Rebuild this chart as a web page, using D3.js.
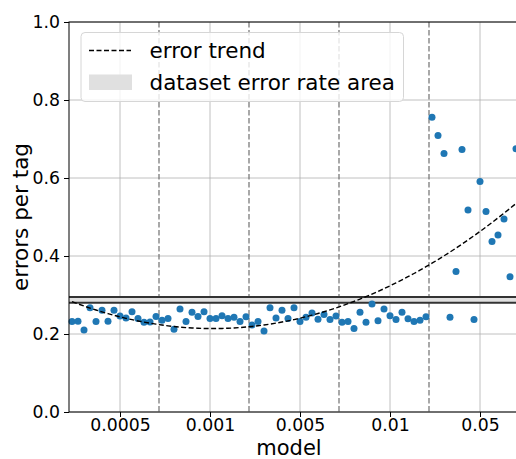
<!DOCTYPE html>
<html>
<head>
<meta charset="utf-8">
<script src="https://cdn.jsdelivr.net/npm/d3@7"></script>
<style>
  html, body { margin: 0; padding: 0; background: #fff; }
  svg { display: block; font-family: "DejaVu Sans", sans-serif; }
</style>
</head>
<body>
<svg id="chart" width="516" height="459"></svg>
<script>
// Errors per tag for each run, 15 runs per model setting
const errors = [
  0.232, 0.233, 0.210, 0.267, 0.232, 0.261, 0.233, 0.261, 0.246, 0.241, 0.257, 0.240, 0.230, 0.231, 0.245,
  0.235, 0.240, 0.212, 0.264, 0.232, 0.256, 0.245, 0.257, 0.240, 0.240, 0.247, 0.240, 0.243, 0.232, 0.244,
  0.223, 0.232, 0.208, 0.267, 0.241, 0.261, 0.240, 0.267, 0.232, 0.243, 0.254, 0.238, 0.250, 0.237, 0.246,
  0.230, 0.232, 0.214, 0.256, 0.230, 0.277, 0.234, 0.264, 0.247, 0.237, 0.256, 0.239, 0.232, 0.235, 0.244,
  0.756, 0.709, 0.663, 0.243, 0.360, 0.673, 0.518, 0.237, 0.591, 0.514, 0.437, 0.454, 0.495, 0.347, 0.675
];
const modelLabels = ["0.0005", "0.001", "0.005", "0.01", "0.05"];
const tickIndex = [8, 23, 38, 53, 68];
const groupBounds = [14.5, 29.5, 44.5, 59.5];
const datasetBand = [0.28, 0.295];
const yTicks = [0, 0.2, 0.4, 0.6, 0.8, 1.0];

const svg = d3.select("#chart");
const m = { left: 69, top: 22, right: 519, bottom: 412 };

const x = d3.scaleLinear().domain([-0.5, errors.length - 0.5]).range([m.left, m.right]);
const y = d3.scaleLinear().domain([0, 1]).range([m.bottom, m.top]);

// grid
const grid = svg.append("g");
grid.selectAll("line.h").data(yTicks).join("line")
  .attr("x1", m.left).attr("x2", m.right)
  .attr("y1", d => y(d)).attr("y2", d => y(d))
  .attr("stroke", "#b0b0b0").attr("stroke-width", 0.8);
grid.selectAll("line.v").data(tickIndex).join("line")
  .attr("x1", d => x(d)).attr("x2", d => x(d))
  .attr("y1", m.top).attr("y2", m.bottom)
  .attr("stroke", "#b0b0b0").attr("stroke-width", 0.8);

// group separators
svg.append("g").selectAll("line").data(groupBounds).join("line")
  .attr("x1", d => x(d)).attr("x2", d => x(d))
  .attr("y1", m.top).attr("y2", m.bottom)
  .attr("stroke", "#707070").attr("stroke-width", 1.2)
  .attr("stroke-dasharray", "5.5,2.5");

// dataset error rate band
svg.append("rect")
  .attr("x", m.left).attr("width", m.right - m.left)
  .attr("y", y(datasetBand[1])).attr("height", y(datasetBand[0]) - y(datasetBand[1]))
  .attr("fill", "#e0e0e0");
svg.append("g").selectAll("line").data(datasetBand).join("line")
  .attr("x1", m.left).attr("x2", m.right)
  .attr("y1", d => y(d)).attr("y2", d => y(d))
  .attr("stroke", "#333").attr("stroke-width", 2);

// points
svg.append("g").selectAll("circle").data(errors).join("circle")
  .attr("cx", (d, i) => x(i)).attr("cy", d => y(d))
  .attr("r", 3.5).attr("fill", "#1f77b4");

// quadratic least-squares trend over the runs
function quadFit(vals) {
  let S = [0, 0, 0, 0, 0], T = [0, 0, 0];
  vals.forEach((v, i) => {
    let p = 1;
    for (let k = 0; k < 5; k++) { S[k] += p; if (k < 3) T[k] += p * v; p *= i; }
  });
  const A = [[S[0], S[1], S[2], T[0]], [S[1], S[2], S[3], T[1]], [S[2], S[3], S[4], T[2]]];
  for (let c = 0; c < 3; c++) {
    for (let r = c + 1; r < 3; r++) {
      const f = A[r][c] / A[c][c];
      for (let k = c; k < 4; k++) A[r][k] -= f * A[c][k];
    }
  }
  const s = [0, 0, 0];
  for (let r = 2; r >= 0; r--) {
    let v = A[r][3];
    for (let k = r + 1; k < 3; k++) v -= A[r][k] * s[k];
    s[r] = v / A[r][r];
  }
  return s;
}
const coef = quadFit(errors);
const trend = errors.map((_, i) => [i, coef[0] + coef[1] * i + coef[2] * i * i]);
svg.append("path")
  .datum(trend)
  .attr("d", d3.line().x(d => x(d[0])).y(d => y(d[1])))
  .attr("fill", "none").attr("stroke", "#000").attr("stroke-width", 1.4)
  .attr("stroke-dasharray", "5,2.5");

// spines
svg.append("rect")
  .attr("x", m.left).attr("y", m.top)
  .attr("width", m.right - m.left).attr("height", m.bottom - m.top)
  .attr("fill", "none").attr("stroke", "#000").attr("stroke-width", 1);

// axes
const yAxis = d3.axisLeft(y).tickValues(yTicks).tickFormat(d3.format(".1f")).tickSize(5).tickPadding(4);
const yg = svg.append("g").attr("transform", `translate(${m.left},0)`).call(yAxis);
yg.select(".domain").remove();
yg.selectAll("text").attr("font-size", 17.3).attr("fill", "#000").attr("font-family", "DejaVu Sans");

const xAxis = d3.axisBottom(x).tickValues(tickIndex).tickFormat((d, i) => modelLabels[i]).tickSize(5).tickPadding(2);
const xg = svg.append("g").attr("transform", `translate(0,${m.bottom})`).call(xAxis);
xg.select(".domain").remove();
xg.selectAll("text").attr("font-size", 17.3).attr("fill", "#000").attr("font-family", "DejaVu Sans");

svg.append("text").attr("x", (m.left + m.right) / 2 - 5).attr("y", 455.3)
  .attr("text-anchor", "middle").attr("font-size", 21).text("model");
svg.append("text").attr("transform", `translate(28,${(m.top + m.bottom) / 2}) rotate(-90)`)
  .attr("text-anchor", "middle").attr("font-size", 21.5).text("errors per tag");

// legend
const lg = svg.append("g");
lg.append("rect").attr("x", 81).attr("y", 32.5).attr("width", 322.5).attr("height", 69)
  .attr("rx", 4).attr("fill", "#fff").attr("fill-opacity", 0.8)
  .attr("stroke", "#d6d6d6").attr("stroke-width", 1);
lg.append("line").attr("x1", 89).attr("x2", 131).attr("y1", 50.5).attr("y2", 50.5)
  .attr("stroke", "#000").attr("stroke-width", 1.4).attr("stroke-dasharray", "5,2.5");
lg.append("rect").attr("x", 89).attr("y", 74.5).attr("width", 43).attr("height", 15.5).attr("fill", "#e0e0e0");
lg.append("text").attr("x", 149.5).attr("y", 58).attr("font-size", 21.5).text("error trend");
lg.append("text").attr("x", 149.5).attr("y", 90).attr("font-size", 21.5).text("dataset error rate area");
</script>
</body>
</html>
